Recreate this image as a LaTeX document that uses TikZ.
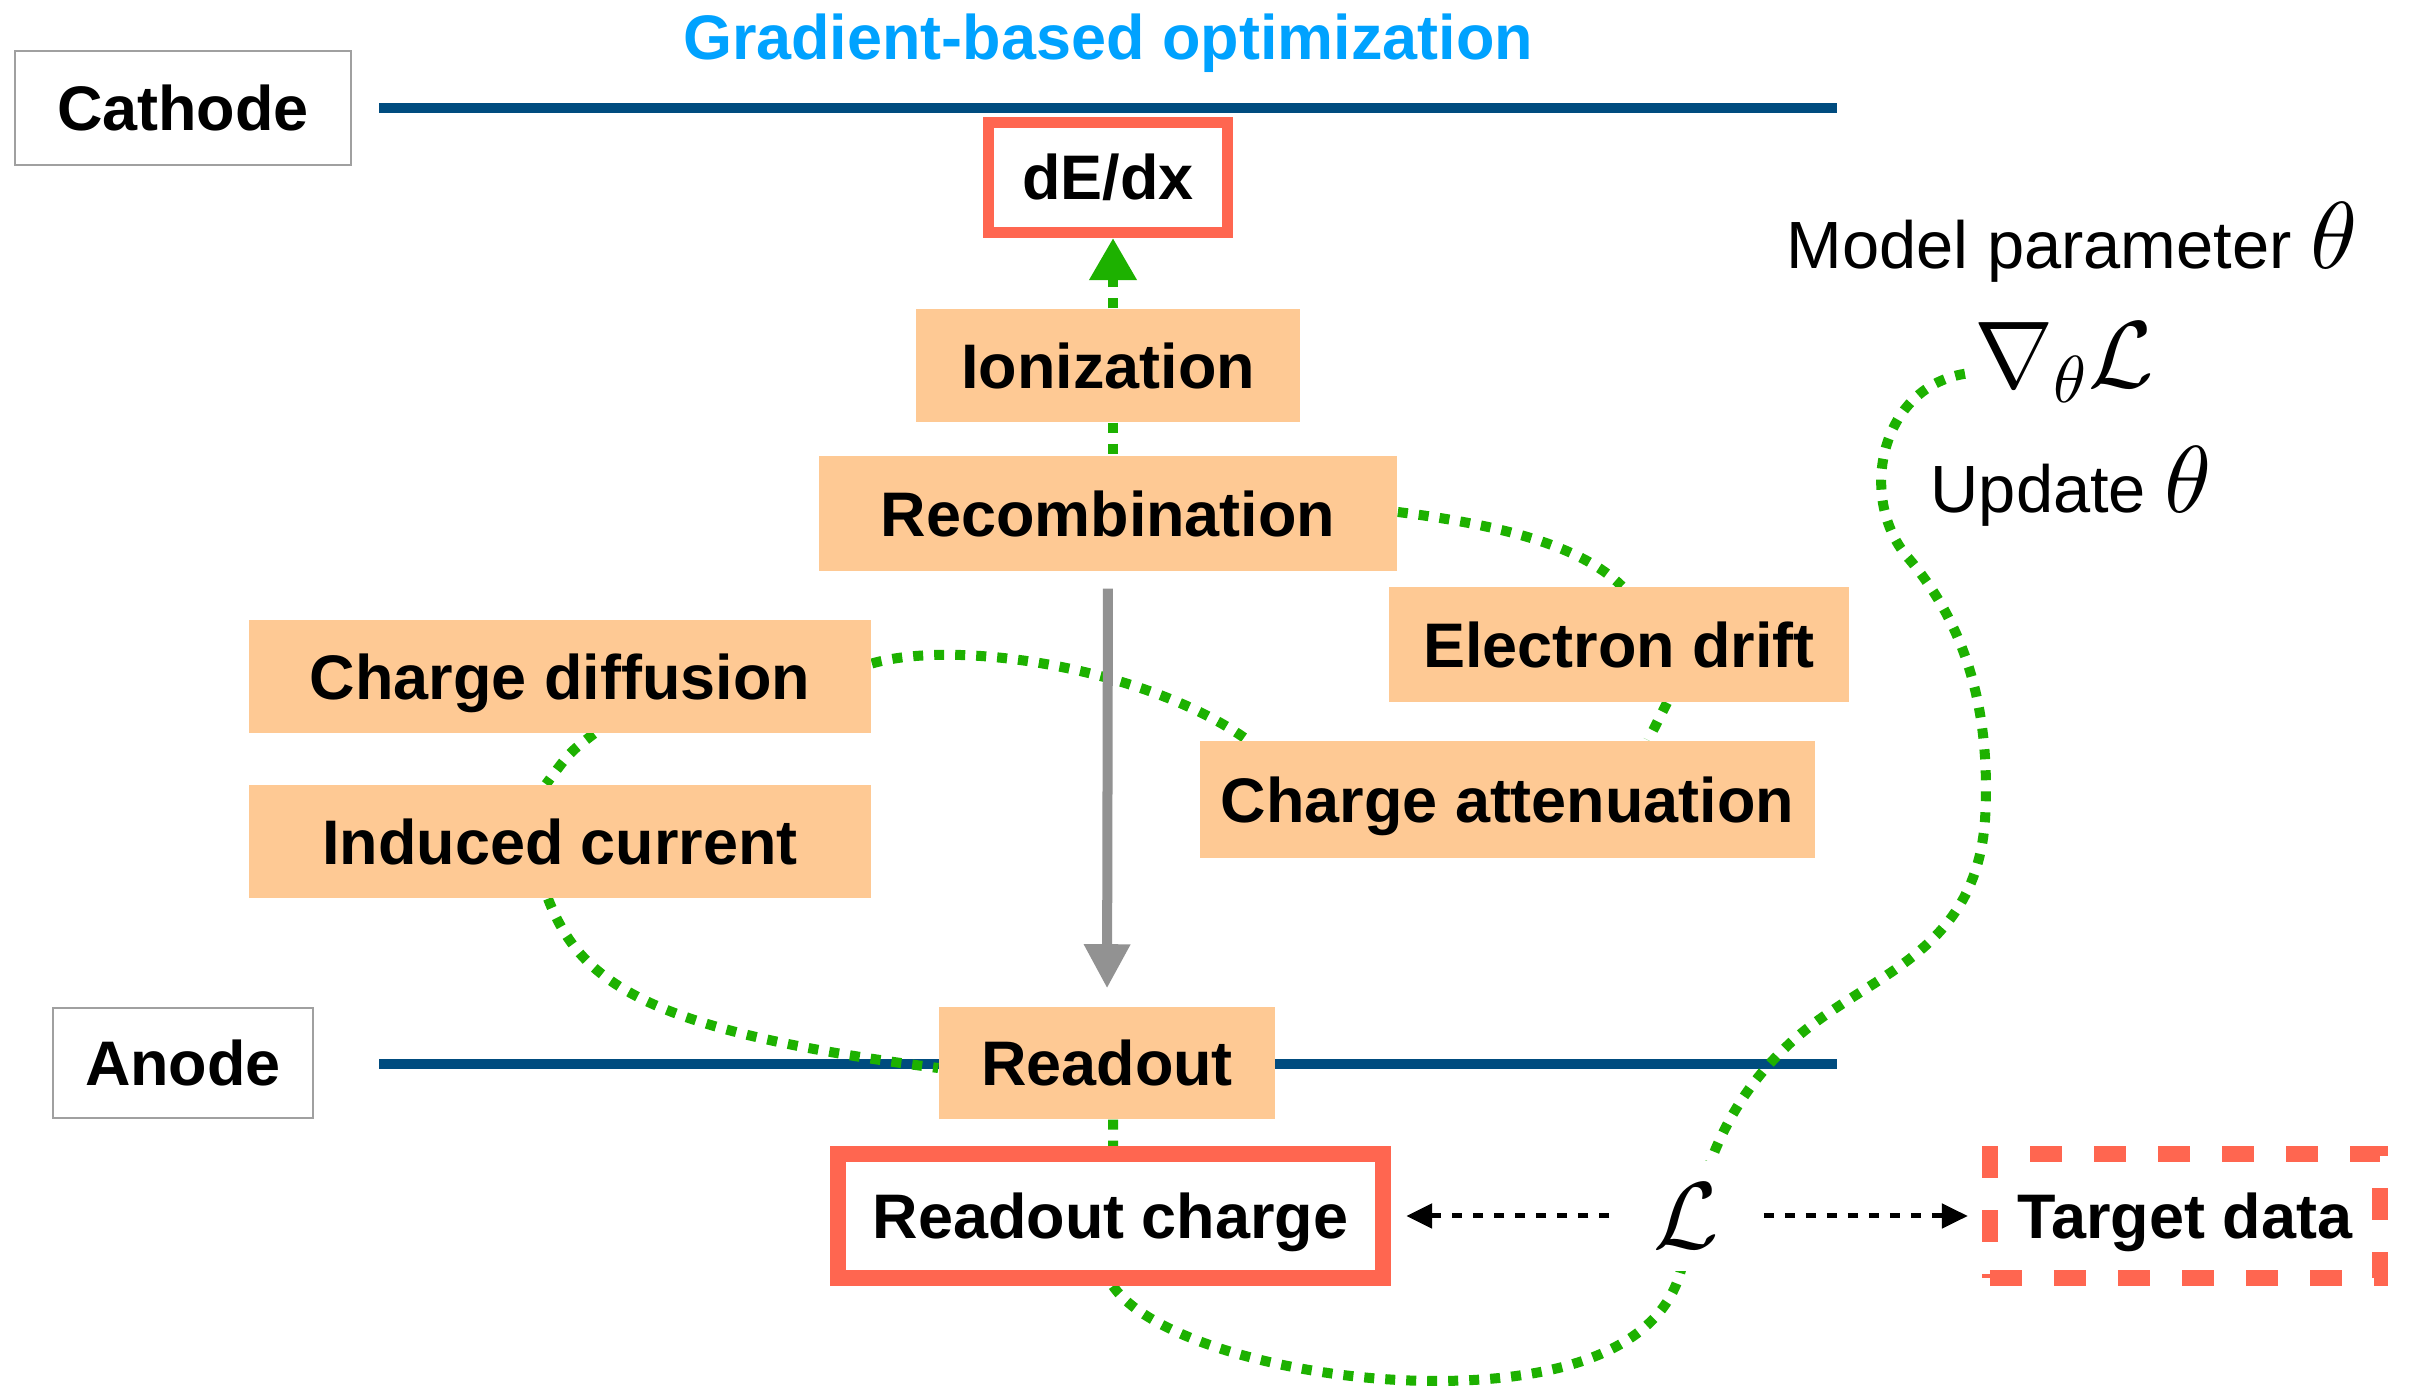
\documentclass[tikz,border=0pt]{standalone}
\usepackage{fontspec}
\setmainfont{Liberation Sans}
\DeclareFontShape{OML}{cmm}{m}{it}{<->cmmi10}{}
\DeclareFontShape{OMS}{cmsy}{m}{n}{<->cmsy10}{}
\usetikzlibrary{arrows.meta}
\definecolor{peach}{RGB}{254,201,148}
\definecolor{tomato}{RGB}{255,102,80}
\definecolor{gcol}{RGB}{29,177,0}
\definecolor{navy}{RGB}{0,76,127}
\definecolor{sky}{RGB}{0,162,255}
\definecolor{grayline}{RGB}{146,146,146}
\definecolor{boxgray}{RGB}{160,160,160}
\pgfdeclarelayer{back}
\pgfdeclarelayer{bg}
\pgfsetlayers{back,bg,main}
\newcommand\boxfont{\fontsize{17.9}{21}\selectfont\bfseries}
\newcommand\plainfont{\fontsize{19}{22}\selectfont}
\newcommand\mathsz{\fontsize{27}{30}\selectfont}
\begin{document}
\begin{tikzpicture}[x=0.01cm,y=-0.01cm,
 proc/.style={fill=peach, inner sep=0pt, text height=0.45cm, text depth=0cm, font=\boxfont},
 redbox/.style={draw=tomato, fill=white, inner sep=0pt, text height=0.45cm, text depth=0cm, font=\boxfont},
 graybox/.style={draw=boxgray, line width=0.02cm, fill=white, inner sep=0pt, text height=0.45cm, text depth=0cm, font=\boxfont},
 plate/.style={draw=navy, line width=0.10cm},
 gdot/.style={draw=gcol, line width=0.10cm, dash pattern=on 0.10cm off 0.11cm},
 bdot/.style={draw=black, line width=0.05cm, dash pattern=on 0.10cm off 0.11cm, -{Triangle[length=0.26cm,width=0.24cm]}},
 grayarrow/.style={draw=grayline, line width=0.10cm, -{Triangle[length=0.44cm,width=0.44cm]}},
 lbl/.style={inner sep=0pt, font=\plainfont},
]
\begin{pgfonlayer}{back}
\fill[white] (0,0) rectangle (2414,1386);
\end{pgfonlayer}
\useasboundingbox (0,0) rectangle (2414,1386);

% title
\node[inner sep=0pt, anchor=base, font=\boxfont, text=sky] (title) at (1108,60) {Gradient-based optimization};

% electrodes
\node[graybox, minimum width=3.36cm, minimum height=1.14cm] (cathode) at (183,108) {Cathode};
\node[graybox, minimum width=2.60cm, minimum height=1.10cm] (anode) at (183,1063) {Anode};

% process boxes
\node[redbox, line width=0.11cm, minimum width=2.39cm, minimum height=1.10cm] (dedx) at (1108,177.5) {dE/dx};
\node[proc, minimum width=3.83cm, minimum height=1.13cm] (ion) at (1108,365.5) {Ionization};
\node[proc, minimum width=5.78cm, minimum height=1.15cm] (recomb) at (1108,513.5) {Recombination};
\node[proc, minimum width=4.60cm, minimum height=1.15cm] (edrift) at (1619,644.5) {Electron drift};
\node[proc, minimum width=6.22cm, minimum height=1.13cm] (cdiff) at (560,676.5) {Charge diffusion};
\node[proc, minimum width=6.15cm, minimum height=1.17cm] (catt) at (1507.5,799.5) {Charge attenuation};
\node[proc, minimum width=6.22cm, minimum height=1.13cm] (icur) at (560,841.5) {Induced current};
\node[proc, minimum width=3.36cm, minimum height=1.12cm] (readout) at (1107,1063) {Readout};
\node[redbox, line width=0.16cm, minimum width=5.45cm, minimum height=1.24cm] (rc) at (1110.5,1216) {Readout charge};
\node[draw=tomato, line width=0.16cm, dash pattern=on 0.32cm off 0.32cm, fill=white, inner sep=0pt,
      text height=0.45cm, text depth=0cm, font=\boxfont, minimum width=3.90cm, minimum height=1.24cm] (td) at (2185,1216) {Target data};

% loss
\node[fill=white, inner sep=0pt, minimum width=1.0cm, minimum height=1.1cm] (L) at (1686,1216) {\mathsz$\mathcal{L}$};

% right-hand labels
\node[lbl, anchor=base west] (mp) at (1786,269) {Model parameter {\mathsz$\theta$}};
\node[inner sep=0pt, anchor=base west] (grad) at (1974,388) {\mathsz$\nabla_{\theta}\mathcal{L}$};
\node[lbl, anchor=base west] (upd) at (1930,513) {Update {\mathsz$\theta$}};

\begin{pgfonlayer}{bg}
  \coordinate (cL) at (379,108);  \coordinate (cR) at (1837,108);
  \coordinate (aL) at (379,1064); \coordinate (aR) at (1837,1064);
  \draw[plate] (cL) -- (cR);
  \draw[plate] (aL) -- (aR);
  % gradient path
  \draw[gdot] ([xshift=0.05cm]ion.south) -- ([xshift=0.05cm]recomb.north);
  \draw[gdot] ([yshift=0.015cm]recomb.east) .. controls (1500,525) and (1580,545) .. ([xshift=0.03cm]edrift.north);
  \draw[gdot] ([xshift=0.48cm]edrift.south) -- ([xshift=1.405cm]catt.north);
  \draw[gdot] ([yshift=0.13cm]cdiff.east) .. controls (960,638) and (1150,670) .. ([xshift=-2.595cm]catt.north);
  \draw[gdot] ([xshift=0.34cm]cdiff.south) .. controls (570,752) .. ([xshift=-0.14cm]icur.north);
  \draw[gdot] ([xshift=-0.12cm]icur.south) .. controls (580,980) and (640,1030) .. ([yshift=-0.05cm]readout.west);
  \draw[gdot] ([xshift=0.06cm]readout.south) -- ([xshift=0.025cm]rc.north);
  \draw[gdot] ([xshift=0.025cm]rc.south) .. controls (1150,1340) and (1300,1381) .. (1436,1381)
      .. controls (1560,1381) and (1660,1350) .. (1681,1270)
      .. controls (1700,1180) and (1720,1110) .. (1786,1047)
      .. controls (1860,975) and (1975,960) .. (1985,820)
      .. controls (1992,700) and (1960,620) .. (1910,560)
      .. controls (1855,500) and (1880,380) .. ([yshift=-0.1cm]grad.west);
\end{pgfonlayer}

\draw[gdot, -{Triangle[length=0.42cm,width=0.45cm]}] ([xshift=0.05cm]ion.north) -- ([xshift=0.05cm]dedx.south);
\draw[grayarrow, shorten <=0.17cm, shorten >=0.18cm] (recomb.south) -- (readout.north);
\draw[bdot, shorten <=0.26cm, shorten >=0.15cm] (L.west) -- (rc.east);
\draw[bdot, shorten <=0.27cm, shorten >=0.14cm] (L.east) -- (td.west);
\end{tikzpicture}
\end{document}
